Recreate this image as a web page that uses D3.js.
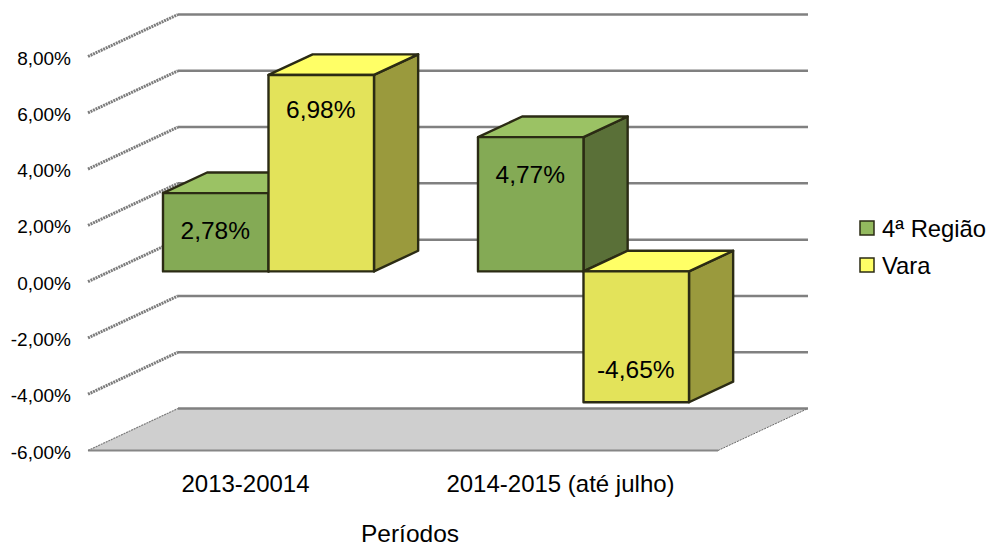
<!DOCTYPE html>
<html>
<head>
<meta charset="utf-8">
<script src="https://cdnjs.cloudflare.com/ajax/libs/d3/7.8.5/d3.min.js"></script>
<style>
    html, body { margin: 0; padding: 0; background: #fff; }
    text { font-family: "Liberation Sans", Arial, sans-serif; fill: #000; }
</style>
</head>
<body>
<div id="chart"></div>
<script>
const categories = ['2013-20014', '2014-2015 (até julho)'];
const series = ['4ª Região', 'Vara'];
const regiaoValues = [2.78, 4.77];
const varaValues = [6.98, -4.65];
const valueLabels = [['2,78%', '4,77%'], ['6,98%', '-4,65%']];
const yTicks = [-6, -4, -2, 0, 2, 4, 6, 8];
const yTickLabels = ['-6,00%', '-4,00%', '-2,00%', '0,00%', '2,00%', '4,00%', '6,00%', '8,00%'];

const colors = [
    { front: '#84aa55', top: '#9bc264', side: '#5a7038', key: '#93b95e' },
    { front: '#e3e35a', top: '#ffff66', side: '#9a9a3d', key: '#ffff66' }
];

const width = 987, height = 543;

const svg = d3.select('#chart').append('svg')
    .attr('width', width)
    .attr('height', height)
    .style('display', 'block');

// X
const x = d3.scaleBand().domain(categories).range([88, 718]);
const xBar = d3.scaleBand().domain(series).range([53, 264]);

// Y
const y = d3.scaleLinear().domain([-6, 8]).range([450.5, 56.5]);

// Depth: z 0 is the front of the box, z 1 the back wall
const depthX = d3.scaleLinear().domain([0, 1]).range([0, 90]);
const depthY = d3.scaleLinear().domain([0, 1]).range([0, -42]);

const pt = (px, v, z) => [px + depthX(z), y(v) + depthY(z)];
const poly = pts => pts.map(p => p.join(',')).join(' ');

const xLeft = x.range()[0], xRight = x.range()[1];

// Floor
svg.append('polygon')
    .attr('points', poly([pt(xLeft, -6, 0), pt(xLeft, -6, 1), pt(xRight, -6, 1), pt(xRight, -6, 0)]))
    .attr('fill', '#cfcfcf');

svg.append('line')
    .attr('x1', pt(xLeft, -6, 0)[0]).attr('y1', pt(xLeft, -6, 0)[1])
    .attr('x2', pt(xRight, -6, 0)[0]).attr('y2', pt(xRight, -6, 0)[1])
    .attr('stroke', '#868686').attr('stroke-width', 2);

svg.append('line')
    .attr('x1', pt(xRight, -6, 0)[0]).attr('y1', pt(xRight, -6, 0)[1])
    .attr('x2', pt(xRight, -6, 1)[0]).attr('y2', pt(xRight, -6, 1)[1])
    .attr('stroke', '#666').attr('stroke-width', 1).attr('stroke-dasharray', '2 1');

// Grid, back wall and left wall
const grid = svg.append('g');

grid.selectAll('.back')
    .data(yTicks)
    .enter().append('line')
    .attr('class', 'back')
    .attr('x1', pt(xLeft, 0, 1)[0])
    .attr('x2', pt(xRight, 0, 1)[0])
    .attr('y1', d => pt(xLeft, d, 1)[1])
    .attr('y2', d => pt(xLeft, d, 1)[1])
    .attr('stroke', '#808080')
    .attr('stroke-width', 2.5);

grid.selectAll('.wall')
    .data(yTicks)
    .enter().append('line')
    .attr('class', 'wall')
    .attr('x1', pt(xLeft, 0, 0)[0])
    .attr('x2', pt(xLeft, 0, 1)[0])
    .attr('y1', d => pt(xLeft, d, 0)[1])
    .attr('y2', d => pt(xLeft, d, 1)[1])
    .attr('stroke', '#7c7c7c')
    .attr('stroke-width', d => d === -6 ? 1.2 : 3)
    .attr('stroke-dasharray', '2 0.8');

// Y labels
svg.selectAll('.y-label')
    .data(yTicks)
    .enter().append('text')
    .attr('class', 'y-label')
    .attr('x', 71)
    .attr('y', d => y(d) + 8)
    .attr('text-anchor', 'end')
    .attr('font-size', 19)
    .text((d, i) => yTickLabels[i]);

// Bars
const zFront = 0.2444, zBack = 0.735;

const barData = [];
categories.forEach((c, ci) => {
    series.forEach((s, si) => {
        const value = (si === 0 ? regiaoValues : varaValues)[ci];
        barData.push({ c, s, si, value, label: valueLabels[si][ci] });
    });
});

const bar = svg.selectAll('.bar')
    .data(barData)
    .enter().append('g')
    .attr('class', 'bar')
    .attr('stroke', '#2b2b14')
    .attr('stroke-width', 2.4)
    .attr('stroke-linejoin', 'round');

const x0 = d => x(d.c) + xBar(d.s);
const x1 = d => x0(d) + xBar.bandwidth();
const hi = d => Math.max(d.value, 0);
const lo = d => Math.min(d.value, 0);

bar.append('polygon')
    .attr('points', d => poly([pt(x1(d), hi(d), zFront), pt(x1(d), hi(d), zBack), pt(x1(d), lo(d), zBack), pt(x1(d), lo(d), zFront)]))
    .attr('fill', d => colors[d.si].side);

bar.append('polygon')
    .attr('points', d => poly([pt(x0(d), hi(d), zFront), pt(x0(d), hi(d), zBack), pt(x1(d), hi(d), zBack), pt(x1(d), hi(d), zFront)]))
    .attr('fill', d => colors[d.si].top);

bar.append('polygon')
    .attr('points', d => poly([pt(x0(d), hi(d), zFront), pt(x1(d), hi(d), zFront), pt(x1(d), lo(d), zFront), pt(x0(d), lo(d), zFront)]))
    .attr('fill', d => colors[d.si].front);

// Value labels
bar.append('text')
    .attr('x', d => pt((x0(d) + x1(d)) / 2, 0, zFront)[0] - 0.5)
    .attr('y', d => {
        if (d.value < 0) return pt(0, lo(d), zFront)[1] - 24;
        return pt(0, hi(d), zFront)[1] + (d.si === 0 ? 46 : 43);
    })
    .attr('text-anchor', 'middle')
    .attr('stroke', 'none')
    .attr('font-size', 24.5)
    .text(d => d.label);

// X labels
svg.selectAll('.x-label')
    .data(categories)
    .enter().append('text')
    .attr('class', 'x-label')
    .attr('x', d => x(d) + x.bandwidth() / 2)
    .attr('y', 492)
    .attr('text-anchor', 'middle')
    .attr('font-size', 24)
    .text(d => d);

// Axis title
svg.append('text')
    .attr('x', 410)
    .attr('y', 542)
    .attr('text-anchor', 'middle')
    .attr('font-size', 24.5)
    .text('Períodos');

// Legend
const legend = svg.selectAll('.legend')
    .data(series)
    .enter().append('g')
    .attr('class', 'legend')
    .attr('transform', (d, i) => `translate(860,${221 + i * 37})`);

legend.append('rect')
    .attr('width', 14)
    .attr('height', 14)
    .attr('fill', (d, i) => colors[i].key)
    .attr('stroke', '#2b2b14')
    .attr('stroke-width', 1.5);

legend.append('text')
    .attr('x', 22)
    .attr('y', 16)
    .attr('font-size', 23.8)
    .text(d => d);
</script>
</body>
</html>
